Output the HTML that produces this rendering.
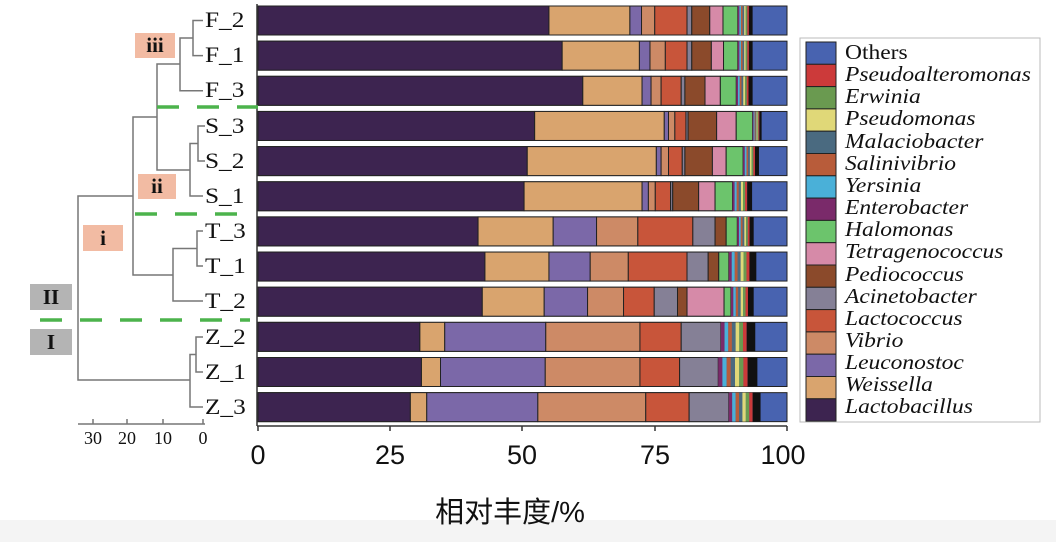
<!DOCTYPE html>
<html><head><meta charset="utf-8"><style>
html,body{margin:0;padding:0;background:#fff;}
svg{display:block;}
text{font-family:"Liberation Serif","Noto Serif CJK SC",serif;fill:#111;}
</style></head><body>
<svg id="s" width="1056" height="542" viewBox="0 0 1056 542" xmlns="http://www.w3.org/2000/svg">
<rect x="0" y="0" width="1056" height="542" fill="#fff"/>
<rect x="0" y="520" width="1056" height="22" fill="#f4f4f4"/>
<g id="bars"></g>
<line x1="257" y1="4" x2="257" y2="426" stroke="#333" stroke-width="1.5"/>
<line x1="257" y1="426" x2="787" y2="426" stroke="#333" stroke-width="1.5"/>
<g stroke="#333" stroke-width="1.5">
<line x1="258" y1="426" x2="258" y2="431"/><line x1="390" y1="426" x2="390" y2="431"/><line x1="522" y1="426" x2="522" y2="431"/><line x1="655" y1="426" x2="655" y2="431"/><line x1="787" y1="426" x2="787" y2="431"/>
</g>
<g font-size="27" text-anchor="middle">
<text x="258" y="464" style="font-family:'Liberation Sans',sans-serif">0</text>
<text x="390" y="464" style="font-family:'Liberation Sans',sans-serif">25</text>
<text x="522" y="464" style="font-family:'Liberation Sans',sans-serif">50</text>
<text x="655" y="464" style="font-family:'Liberation Sans',sans-serif">75</text>
<text x="783" y="464" style="font-family:'Liberation Sans',sans-serif">100</text>
</g>
<text x="510" y="522" font-size="29" text-anchor="middle" style="font-family:'Liberation Sans','Noto Sans CJK SC',sans-serif">相对丰度/%</text>

<rect x="800" y="38" width="240" height="384" fill="#fff" stroke="#bbb" stroke-width="1"/>
<g id="leg"></g>
<g font-size="21" font-style="italic" transform="translate(845,0) scale(1.12,1) translate(-845,0)">
<text x="845" y="59" font-style="normal">Others</text>
<text x="845" y="81">Pseudoalteromonas</text>
<text x="845" y="103">Erwinia</text>
<text x="845" y="125">Pseudomonas</text>
<text x="845" y="148">Malaciobacter</text>
<text x="845" y="170">Salinivibrio</text>
<text x="845" y="192">Yersinia</text>
<text x="845" y="214">Enterobacter</text>
<text x="845" y="236">Halomonas</text>
<text x="845" y="258">Tetragenococcus</text>
<text x="845" y="281">Pediococcus</text>
<text x="845" y="303">Acinetobacter</text>
<text x="845" y="325">Lactococcus</text>
<text x="845" y="347">Vibrio</text>
<text x="845" y="369">Leuconostoc</text>
<text x="845" y="391">Weissella</text>
<text x="845" y="413">Lactobacillus</text>
</g>

<g stroke="#777" stroke-width="1.5" fill="none">
<path d="M203 20.5H193V55.6H203"/>
<path d="M193 38H180V90.8H203"/>
<path d="M205 126H198V161H205"/>
<path d="M198 143.5H190V196H203"/>
<path d="M180 64H157V170H190"/>
<path d="M203 231H197V266H203"/>
<path d="M197 248.5H173V301H203"/>
<path d="M157 117H133V275H173"/>
<path d="M203 337H196V372H203"/>
<path d="M196 354.5H190V407H203"/>
<path d="M133 196H78V380H190"/>
<path d="M78 424H205"/>
<path d="M93 424V419M127 424V419M163 424V419M203 424V419"/>
</g>
<g font-size="18" text-anchor="middle">
<text x="93" y="444">30</text><text x="127" y="444">20</text><text x="163" y="444">10</text><text x="203" y="444">0</text>
</g>
<g font-size="22" transform="translate(205,0) scale(1.15,1) translate(-205,0)">
<text x="205" y="27">F_2</text><text x="205" y="62">F_1</text><text x="205" y="97">F_3</text>
<text x="205" y="133">S_3</text><text x="205" y="168">S_2</text><text x="205" y="203">S_1</text>
<text x="205" y="238">T_3</text><text x="205" y="273">T_1</text><text x="205" y="308">T_2</text>
<text x="205" y="344">Z_2</text><text x="205" y="379">Z_1</text><text x="205" y="414">Z_3</text>
</g>
<g stroke="#4cb34c" stroke-width="3.5" stroke-dasharray="22,18">
<line x1="157" y1="107" x2="258" y2="107"/>
<line x1="135" y1="214" x2="240" y2="214"/>
<line x1="40" y1="320" x2="62" y2="320"/>
<line x1="80" y1="320" x2="250" y2="320"/>
</g>
<rect x="135" y="33" width="40" height="25" fill="#f2bba3"/>
<text x="155" y="52" font-size="21" font-weight="bold" text-anchor="middle">iii</text>
<rect x="138" y="174" width="38" height="25" fill="#f2bba3"/>
<text x="157" y="193" font-size="21" font-weight="bold" text-anchor="middle">ii</text>
<rect x="83" y="225" width="40" height="26" fill="#f2bba3"/>
<text x="103" y="245" font-size="21" font-weight="bold" text-anchor="middle">i</text>
<rect x="30" y="284" width="42" height="26" fill="#b4b4b4"/>
<text x="51" y="304" font-size="21" font-weight="bold" text-anchor="middle">II</text>
<rect x="30" y="329" width="42" height="26" fill="#b4b4b4"/>
<text x="51" y="349" font-size="21" font-weight="bold" text-anchor="middle">I</text>
</svg>
<script>
var C={L:"#3d2450",W:"#d9a46e",Le:"#7b68a8",V:"#cd8a66",Lc:"#c8553a",A:"#858096",P:"#8b4a2b",T:"#d68aa8",H:"#6cc46c",E:"#7a2a6a",Y:"#4ab0d8",S:"#b85c3a",M:"#4a6a80",Pm:"#e0d878",Er:"#6a9a50",Pa:"#cc3a3a",K:"#111",O:"#4863b0"};
var legOrder=["O","Pa","Er","Pm","M","S","Y","E","H","T","P","A","Lc","V","Le","W","L"];
var ns="http://www.w3.org/2000/svg";
function r(g,x,y,w,h,f,st){var e=document.createElementNS(ns,"rect");e.setAttribute("x",x);e.setAttribute("y",y);e.setAttribute("width",w);e.setAttribute("height",h);e.setAttribute("fill",f);if(st){e.setAttribute("stroke","#222");e.setAttribute("stroke-width","1");}g.appendChild(e);}
var lg=document.getElementById("leg");
legOrder.forEach(function(k,i){r(lg,806,42+i*22.3,30,22.3,C[k],true);});
var rows=[
[55,70.3,72.5,75,81.1,82,85.4,87.9,90.7,93.5],
[57.5,72.1,74.1,77,81.1,82,85.7,88,90.7,93.5],
[61.4,72.6,74.3,76.2,80,80.7,84.5,87.4,90.4,93.5],
[52.3,76.8,77.6,78.8,80.9,81.3,86.7,90.4,93.5,95.2],
[50.9,75.3,76.2,77.6,80.2,80.7,85.9,88.5,91.7,94.7],
[50.3,72.6,73.8,75.1,78,78.4,83.3,86.4,89.7,93.4],
[41.6,55.8,64,71.8,82.2,86.4,88.5,88.5,90.6,93.7],
[42.9,55,62.8,70,81.1,85.1,87.1,87.1,89,94.2],
[42.4,54.1,62.3,69.1,74.9,79.3,81.1,88.1,89.4,93.7],
[30.6,35.3,54.4,72.2,80,87.5,87.5,87.5,87.5,94],
[30.9,34.5,54.3,72.2,79.7,87,87,87,87,94.4],
[28.8,31.9,52.9,73.3,81.5,89,89,89,89,95]];
var keys=["L","W","Le","V","Lc","A","P","T","H"];
var small=["E","Y","S","M","Pm","Er","Pa","K"];
var bg=document.getElementById("bars");
var X=function(p){return 258+p*5.29;};
rows.forEach(function(b,i){
 var y=6+35.15*i,h=29;
 r(bg,258,y,529,h,C.O,true);
 var prev=0;
 for(var j=0;j<9;j++){if(b[j]>prev){r(bg,X(prev),y,X(b[j])-X(prev),h,C[keys[j]],true);}prev=b[j];}
 var rem=b[9]-prev,n=small.length;
 for(var k=0;k<n;k++){var w=(k==n-1)?rem*0.25:rem*0.75/(n-1);r(bg,X(prev),y,w*5.29,h,C[small[k]],false);prev+=w;}
});
</script>
</body></html>
